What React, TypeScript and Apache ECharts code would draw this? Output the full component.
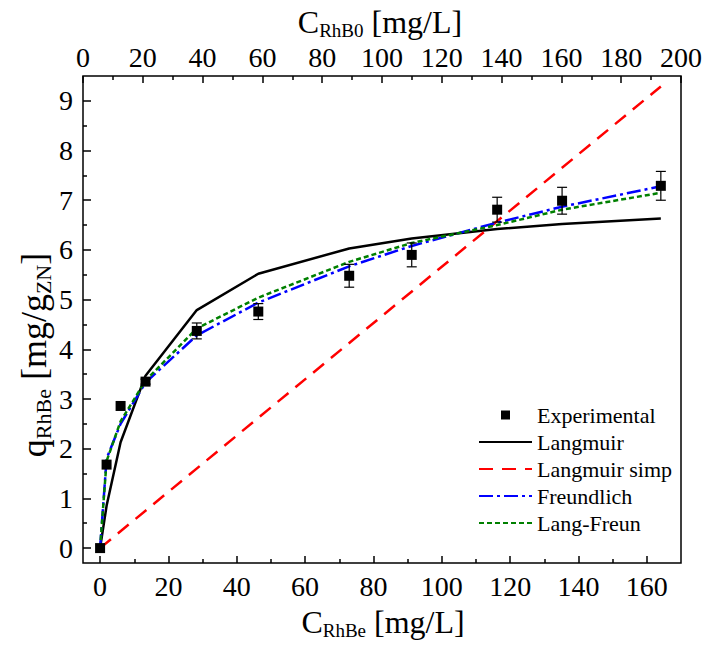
import React, { useEffect, useRef } from 'react';
import * as echarts from 'echarts';

// Experimental data
const expX = [0, 1.9, 6.0, 13.3, 28.3, 46.3, 72.9, 91.2, 116.2, 135.2, 164.1];
const expY = [0, 1.68, 2.86, 3.35, 4.37, 4.76, 5.48, 5.9, 6.81, 6.99, 7.29];
const expErr = [0, 0, 0, 0.05, 0.16, 0.16, 0.23, 0.24, 0.25, 0.27, 0.29];

// Model curves (evaluated at the experimental concentrations)
const langmuirY = [0, 0.85, 2.13, 3.47, 4.79, 5.52, 6.03, 6.23, 6.42, 6.52, 6.63];
const freundY = [0, 1.8, 2.5, 3.33, 4.28, 4.94, 5.67, 6.08, 6.55, 6.87, 7.28];
const langFreunY = [0, 1.75, 2.55, 3.37, 4.42, 5.04, 5.76, 6.14, 6.5, 6.81, 7.15];
const simpX = [0, 164.1];
const simpY = [0, 9.29];

// Axis ticks
const bottomMajor = [0, 20, 40, 60, 80, 100, 120, 140, 160];
const bottomMinor = [10, 30, 50, 70, 90, 110, 130, 150];
const leftMajor = [0, 1, 2, 3, 4, 5, 6, 7, 8, 9];
const leftMinor = [0.5, 1.5, 2.5, 3.5, 4.5, 5.5, 6.5, 7.5, 8.5];

const FONT = 'Liberation Serif';

const pairs = (xs: number[], ys: number[]) => xs.map((x, i) => [x, ys[i]]);

export default function App() {
  const ref = useRef<HTMLDivElement>(null);

  useEffect(() => {
    if (!ref.current) return;
    const chart = echarts.init(ref.current, null, { renderer: 'svg' });
    const tickStyle = { color: '#000', width: 1.5 };
    const hiddenLine = { show: false, onZero: false };
    const hideSym = { opacity: 0 };
    const mkRich = (big: number, small: number, pad: number) => ({
      m: { fontSize: big, fontFamily: FONT, fill: '#000' },
      s: { fontSize: small, fontFamily: FONT, fill: '#000', padding: [pad, 0, 0, 0] },
    });

    const option: any = {
      animation: false,
      backgroundColor: '#fff',
      textStyle: { fontFamily: FONT, color: '#000' },
      grid: {
        left: 83,
        top: 76,
        width: 600,
        height: 487,
        show: true,
        borderColor: '#000',
        borderWidth: 1.5,
        backgroundColor: 'transparent',
      },
      xAxis: [
        {
          type: 'value',
          position: 'bottom',
          min: -5,
          max: 170,
          axisLine: hiddenLine,
          splitLine: { show: false },
          axisTick: { inside: true, length: 7, customValues: bottomMajor, lineStyle: tickStyle },
          axisLabel: { customValues: bottomMajor, fontSize: 28, fontFamily: FONT, color: '#000', margin: 9 },
        },
        {
          type: 'value',
          position: 'bottom',
          min: -5,
          max: 170,
          axisLine: hiddenLine,
          splitLine: { show: false },
          axisTick: { inside: true, length: 4, customValues: bottomMinor, lineStyle: tickStyle },
          axisLabel: { show: false },
        },
        {
          type: 'value',
          position: 'top',
          min: 0,
          max: 200,
          interval: 20,
          axisLine: hiddenLine,
          splitLine: { show: false },
          axisTick: { inside: true, length: 7, lineStyle: tickStyle },
          minorTick: { show: true, splitNumber: 2, length: 4, lineStyle: tickStyle },
          minorSplitLine: { show: false },
          axisLabel: { fontSize: 28, fontFamily: FONT, color: '#000', margin: 5 },
        },
      ],
      yAxis: [
        {
          type: 'value',
          position: 'left',
          min: -0.3,
          max: 9.5,
          axisLine: hiddenLine,
          splitLine: { show: false },
          axisTick: { inside: true, length: 8, customValues: leftMajor, lineStyle: tickStyle },
          axisLabel: { customValues: leftMajor, fontSize: 28, fontFamily: FONT, color: '#000', margin: 10 },
        },
        {
          type: 'value',
          position: 'left',
          min: -0.3,
          max: 9.5,
          axisLine: hiddenLine,
          splitLine: { show: false },
          axisTick: { inside: true, length: 4, customValues: leftMinor, lineStyle: tickStyle },
          axisLabel: { show: false },
        },
      ],
      legend: {
        data: [
          { name: 'Experimental', icon: 'path://M0,0L10,0L10,10L0,10Z' },
          { name: 'Langmuir', itemStyle: hideSym },
          { name: 'Langmuir simp', itemStyle: hideSym },
          { name: 'Freundlich', itemStyle: hideSym },
          { name: 'Lang-Freun', itemStyle: hideSym },
        ],
        orient: 'vertical',
        left: 473,
        top: 399,
        itemWidth: 53,
        itemHeight: 9,
        itemGap: 5,
        symbolKeepAspect: true,
        textStyle: { fontSize: 22, fontFamily: FONT, color: '#000' },
      },
      series: [
        {
          name: 'Langmuir',
          type: 'line',
          data: pairs(expX, langmuirY),
          symbol: 'none',
          lineStyle: { color: '#000', width: 2.5, type: 'solid' },
          itemStyle: { color: '#000' },
          z: 3,
        },
        {
          name: 'Langmuir simp',
          type: 'line',
          data: pairs(simpX, simpY),
          symbol: 'none',
          lineStyle: { color: '#ff0000', width: 2.5, type: [14, 9] },
          itemStyle: { color: '#ff0000' },
          z: 3,
        },
        {
          name: 'Freundlich',
          type: 'line',
          data: pairs(expX, freundY),
          symbol: 'none',
          lineStyle: { color: '#0000ff', width: 2.5, type: [14, 4, 3, 4] },
          itemStyle: { color: '#0000ff' },
          z: 4,
        },
        {
          name: 'Lang-Freun',
          type: 'line',
          data: pairs(expX, langFreunY),
          symbol: 'none',
          lineStyle: { color: '#008000', width: 2.5, type: [5, 3] },
          itemStyle: { color: '#008000' },
          z: 4,
        },
        {
          name: 'errors',
          type: 'custom',
          data: expX.map((x, i) => [x, expY[i], expErr[i]]),
          encode: { x: 0, y: 1 },
          z: 5,
          renderItem: (params: any, api: any) => {
            const x = api.value(0);
            const y = api.value(1);
            const e = api.value(2);
            if (!e) return null;
            const top = api.coord([x, y + e]);
            const bot = api.coord([x, y - e]);
            const hw = 5;
            const st = { stroke: '#000', lineWidth: 1.2 };
            return {
              type: 'group',
              children: [
                { type: 'line', shape: { x1: top[0], y1: top[1], x2: bot[0], y2: bot[1] }, style: st },
                { type: 'line', shape: { x1: top[0] - hw, y1: top[1], x2: top[0] + hw, y2: top[1] }, style: st },
                { type: 'line', shape: { x1: bot[0] - hw, y1: bot[1], x2: bot[0] + hw, y2: bot[1] }, style: st },
              ],
            };
          },
        },
        {
          name: 'Experimental',
          type: 'scatter',
          data: pairs(expX, expY),
          symbol: 'rect',
          symbolSize: 10,
          itemStyle: { color: '#000', opacity: 1 },
          z: 6,
        },
      ],
      graphic: [
        {
          type: 'text',
          x: 380,
          y: 22,
          style: {
            text: '{m|C}{s|RhB0}{m| [mg/L]}',
            align: 'center',
            verticalAlign: 'middle',
            rich: mkRich(32, 19, 16),
          },
        },
        {
          type: 'text',
          x: 383,
          y: 622,
          style: {
            text: '{m|C}{s|RhBe}{m| [mg/L]}',
            align: 'center',
            verticalAlign: 'middle',
            rich: mkRich(32, 19, 16),
          },
        },
        {
          type: 'text',
          x: 34,
          y: 355,
          rotation: Math.PI / 2,
          style: {
            text: '{m|q}{s|RhBe}{m| [mg/g}{s|ZN}{m|]}',
            align: 'center',
            verticalAlign: 'middle',
            rich: mkRich(36, 22, 18),
          },
        },
      ],
    };

    chart.setOption(option);
    return () => {
      chart.dispose();
    };
  }, []);

  return (
    <div
      ref={ref}
      style={{ position: 'absolute', left: 0, top: 0, width: 705, height: 646 }}
    />
  );
}
